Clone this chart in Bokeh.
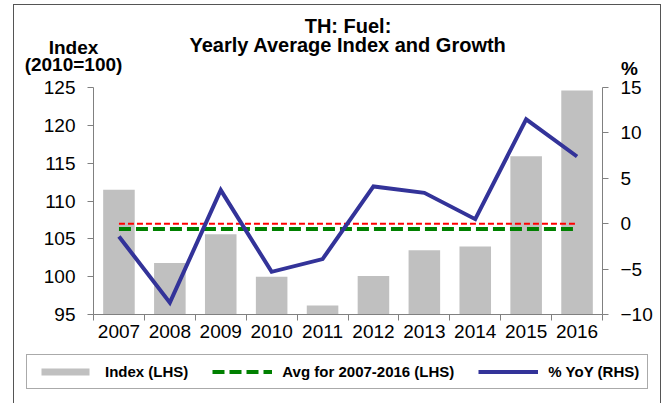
from bokeh.plotting import figure
from bokeh.models import (Range1d, LinearAxis, FixedTicker, Legend, LegendItem, Label, ColumnDataSource)
from bokeh.embed import file_html
from bokeh.resources import INLINE

years = [2007, 2008, 2009, 2010, 2011, 2012, 2013, 2014, 2015, 2016]
year_labels = ["2007", "2008", "2009", "2010", "2011", "2012", "2013", "2014", "2015", "2016"]
index_lhs = [111.5, 101.8, 105.6, 100.0, 96.2, 100.1, 103.5, 104.0, 115.9, 124.6]
yoy_rhs = [-1.4, -8.7, 3.7, -5.3, -3.9, 4.1, 3.4, 0.5, 11.5, 7.4]
avg_lhs = 106.3
zero_rhs = 0.0
left_ticks = [95, 100, 105, 110, 115, 120, 125]
right_ticks = [-10, -5, 0, 5, 10, 15]

FONT = "Liberation Sans"
AXC = "#808080"

# canvas and axis-box layout in pixels
W, H = 648, 399
AX_L, AX_R, AX_T, AX_B = 79, 588, 82, 309

x0, x1 = years[0] - 0.5, years[-1] + 0.5
xc = (x0 + x1) / 2
ly0, ly1 = left_ticks[0], left_ticks[-1]
ry0, ry1 = right_ticks[0], right_ticks[-1]

xs = (x1 - x0) / (AX_R - AX_L)
lys = (ly1 - ly0) / (AX_B - AX_T)
rys = (ry1 - ry0) / (AX_B - AX_T)

p = figure(width=W, height=H, output_backend="svg", toolbar_location=None, tools="",
           x_range=Range1d(x0 - AX_L * xs, x1 + (W - AX_R) * xs),
           y_range=Range1d(ly0 - (H - AX_B) * lys, ly1 + AX_T * lys),
           min_border=0, min_border_left=0, min_border_right=0,
           min_border_top=0, min_border_bottom=0)
p.styles = {"margin-left": "13px", "margin-top": "4px",
            "border-left": "1px solid #555555", "border-right": "1px solid #555555",
            "border-top": "1px solid #555555"}
p.extra_y_ranges = {"yoy": Range1d(ry0 - (H - AX_B) * rys, ry1 + AX_T * rys)}
p.outline_line_color = None
p.xgrid.visible = False
p.ygrid.visible = False
p.background_fill_color = "white"
p.border_fill_color = "white"

src = ColumnDataSource(dict(x=years, idx=index_lhs, yoy=yoy_rhs))
bars = p.vbar(x="x", top="idx", bottom=ly0, width=0.62, source=src,
              fill_color="#C0C0C0", line_color=None)
zero = p.line(x=[years[0], years[-1]], y=[zero_rhs, zero_rhs], y_range_name="yoy",
              line_color="#FF0000", line_width=2, line_dash="6 3")
avg = p.line(x=[years[0], years[-1]], y=[avg_lhs, avg_lhs],
             line_color="#008000", line_width=4, line_dash="12 5")
yoy = p.line(x="x", y="yoy", source=src, y_range_name="yoy",
             line_color="#333399", line_width=4, line_join="miter")

def style_axis(ax):
    ax.axis_line_color = AXC
    ax.major_tick_line_color = AXC
    ax.minor_tick_line_color = AXC
    ax.major_label_text_font = FONT
    ax.major_label_text_font_size = "19px"
    ax.major_label_text_color = "black"

xa = p.xaxis[0]
xa.fixed_location = ly0
xa.bounds = (x0, x1)
xa.ticker = FixedTicker(ticks=years, minor_ticks=[y - 0.5 for y in years] + [years[-1] + 0.5])
xa.major_label_overrides = {y: l for y, l in zip(years, year_labels)}
xa.major_tick_out = 0
xa.major_tick_in = 0
xa.minor_tick_out = 6
xa.minor_tick_in = 0
xa.major_label_standoff = 4
style_axis(xa)

ya = p.yaxis[0]
ya.fixed_location = x0
ya.bounds = (ly0, ly1)
ya.ticker = FixedTicker(ticks=left_ticks)
ya.major_tick_out = 6
ya.major_tick_in = 0
ya.minor_tick_out = 0
ya.major_label_standoff = 12
style_axis(ya)

ra = LinearAxis(y_range_name="yoy", ticker=FixedTicker(ticks=right_ticks))
ra.fixed_location = x1
ra.bounds = (ry0, ry1)
ra.major_tick_out = 6
ra.major_tick_in = 0
ra.minor_tick_out = 0
ra.major_label_standoff = 12
style_axis(ra)
p.add_layout(ra, "right")

def lab(text, x, xo, yo, size, bold=True):
    p.add_layout(Label(x=x, y=ly1, x_offset=xo, y_offset=yo, text=text,
                       text_font=FONT, text_font_size=size,
                       text_font_style="bold" if bold else "normal",
                       text_align="center", text_baseline="alphabetic",
                       text_color="black"))

lab("TH: Fuel:", xc, 0, 62, "20px")
lab("Yearly Average Index and Growth", xc, 0, 43, "20px")
lab("Index", x0, -20, 40, "19px")
lab("(2010=100)", x0, -20, 23, "19px")
lab("%", x1, 27, 19, "19px")

legend = Legend(items=[LegendItem(label="Index (LHS)", renderers=[bars]),
                       LegendItem(label="Avg for 2007-2016 (LHS)", renderers=[avg]),
                       LegendItem(label="% YoY (RHS)", renderers=[yoy])],
                orientation="horizontal", location=(12, 15),
                glyph_width=60, glyph_height=9, label_standoff=10, spacing=24,
                padding=8, margin=0,
                label_text_font=FONT, label_text_font_size="15px",
                label_text_font_style="bold", label_text_color="black",
                border_line_color="#555555", border_line_width=1,
                background_fill_color="white", background_fill_alpha=1.0)
p.add_layout(legend, "center")

open("out.html", "w").write(file_html(p, INLINE))
